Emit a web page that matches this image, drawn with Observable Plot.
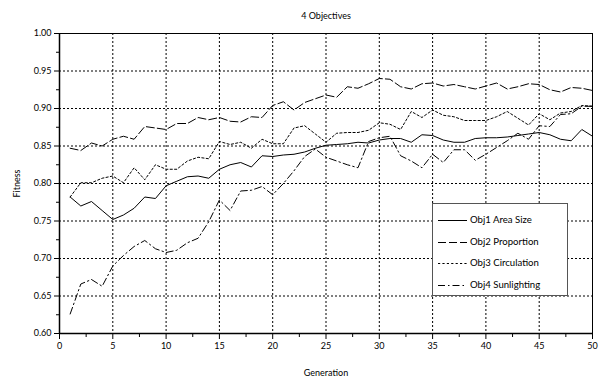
<!DOCTYPE html>
<html>
<head>
<meta charset="utf-8">
<script src="https://cdn.jsdelivr.net/npm/d3@7"></script>
<script src="https://cdn.jsdelivr.net/npm/@observablehq/plot@0.6"></script>
<style>
  html, body { margin: 0; padding: 0; background: #fff; }
  #wrap { position: relative; width: 602px; height: 383px; font-family: Lato, "DejaVu Sans", sans-serif; }
  #legend { position: absolute; left: 432px; top: 203px; width: 134px; height: 91px; background: #fff; border: 1px solid #555; }
  #legend .row { position: absolute; left: 0; height: 14px; font-size: 9.6px; line-height: 14px; color: #000; white-space: nowrap; }
  #legend svg { position: absolute; left: 5px; top: 6px; }
  #legend span { position: absolute; left: 37px; top: 0; }
  svg.plot .grid { shape-rendering: crispEdges; }
</style>
</head>
<body>
<div id="wrap"><div id="legend"></div></div>
<script>
const generations = d3.range(1, 51);
const seriesNames = ["Obj1 Area Size", "Obj2 Proportion", "Obj3 Circulation", "Obj4 Sunlighting"];
const obj1 = [0.782,0.770,0.776,0.764,0.752,0.758,0.767,0.782,0.780,0.797,0.803,0.809,0.810,0.807,0.819,0.825,0.828,0.822,0.837,0.836,0.838,0.839,0.842,0.847,0.851,0.852,0.853,0.855,0.854,0.858,0.860,0.860,0.855,0.865,0.864,0.858,0.855,0.855,0.860,0.861,0.861,0.862,0.864,0.866,0.868,0.865,0.859,0.857,0.872,0.863];
const obj2 = [0.847,0.844,0.854,0.850,0.859,0.863,0.859,0.876,0.874,0.872,0.880,0.880,0.888,0.885,0.888,0.883,0.882,0.889,0.888,0.904,0.909,0.898,0.908,0.913,0.918,0.915,0.929,0.927,0.933,0.940,0.939,0.929,0.926,0.933,0.934,0.930,0.932,0.929,0.926,0.930,0.934,0.926,0.929,0.933,0.932,0.925,0.922,0.928,0.927,0.924];
const obj3 = [0.782,0.801,0.801,0.807,0.810,0.801,0.821,0.805,0.825,0.819,0.819,0.830,0.835,0.833,0.856,0.852,0.855,0.847,0.859,0.853,0.853,0.874,0.877,0.866,0.855,0.867,0.868,0.868,0.871,0.881,0.879,0.872,0.896,0.888,0.898,0.891,0.889,0.884,0.884,0.884,0.889,0.896,0.887,0.878,0.893,0.885,0.894,0.896,0.904,0.903];
const obj4 = [0.626,0.666,0.672,0.663,0.690,0.704,0.716,0.724,0.713,0.708,0.711,0.721,0.727,0.749,0.778,0.764,0.790,0.791,0.796,0.785,0.800,0.817,0.836,0.846,0.835,0.830,0.825,0.821,0.856,0.861,0.863,0.837,0.830,0.821,0.839,0.828,0.845,0.845,0.831,0.839,0.848,0.857,0.867,0.859,0.877,0.876,0.892,0.893,0.903,0.903];
const xMajor = d3.range(0, 51, 5);
const xMinor = d3.range(2.5, 50, 5);
const yMajor = [0.60,0.65,0.70,0.75,0.80,0.85,0.90,0.95,1.00];
const yMinor = [0.625,0.675,0.725,0.775,0.825,0.875,0.925,0.975];
const titleText = "4 Objectives";

const allSeries = [obj1, obj2, obj3, obj4];
const dashes = [null, "8,3", "2.2,2.2", "7,3,1.5,3"];
const tables = allSeries.map((vals, k) => vals.map((v, i) => ({gen: generations[i], value: v, name: seriesNames[k]})));

const font = "Lato, 'DejaVu Sans', sans-serif";
const chart = Plot.plot({
  width: 602,
  height: 383,
  marginLeft: 59,
  marginRight: 10,
  marginTop: 33,
  marginBottom: 50,
  style: {fontFamily: font, fontSize: "9px", color: "#000", background: "transparent"},
  x: {domain: [0, 50]},
  y: {domain: [0.6, 1.0]},
  marks: [
    Plot.gridX(xMajor.filter(d => d > 0 && d < 50), {stroke: "#000", strokeOpacity: 1, strokeDasharray: "2,2", strokeWidth: 1, className: "grid"}),
    Plot.gridY(yMajor.filter(d => d > 0.6 && d < 1.0), {stroke: "#000", strokeOpacity: 1, strokeDasharray: "2,2", strokeWidth: 1, className: "grid"}),
    Plot.axisX(xMajor, {tickSize: 6, tickPadding: 3, stroke: "#000", label: "Generation", labelAnchor: "center", labelOffset: 42, labelArrow: "none", fontSize: 9}),
    Plot.axisX(xMinor, {tickSize: 4, stroke: "#000", text: null, label: null}),
    Plot.axisY(yMajor, {tickSize: 5, tickPadding: 3, stroke: "#000", tickFormat: ".2f", label: "Fitness", labelAnchor: "center", labelOffset: 46, labelArrow: "none", fontSize: 9}),
    Plot.axisY(yMinor, {tickSize: 3, stroke: "#000", text: null, label: null}),
    ...tables.map((t, k) => Plot.line(t, {x: "gen", y: "value", stroke: "#000", strokeWidth: 1, strokeDasharray: dashes[k]})),
    Plot.frame({stroke: "#000", strokeWidth: 1}),
    Plot.ruleX([0], {stroke: "#000", strokeWidth: 1.5}),
    Plot.ruleY([0.6], {stroke: "#000", strokeWidth: 1.5}),
    Plot.text([titleText], {frameAnchor: "top", dy: -21, fontSize: 9, fill: "#000"})
  ]
});
const wrap = document.getElementById("wrap");
wrap.insertBefore(chart, wrap.firstChild);

const legend = document.getElementById("legend");
seriesNames.forEach((name, k) => {
  const row = document.createElement("div");
  row.className = "row";
  row.style.top = (9 + k * 21.5) + "px";
  row.style.width = "130px";
  const dash = dashes[k] ? ` stroke-dasharray="${dashes[k]}"` : "";
  row.innerHTML = `<svg width="30" height="3"><line x1="0" x2="29" y1="1.5" y2="1.5" stroke="#000" stroke-width="1"${dash}/></svg><span>${name}</span>`;
  legend.appendChild(row);
});
</script>
</body>
</html>
